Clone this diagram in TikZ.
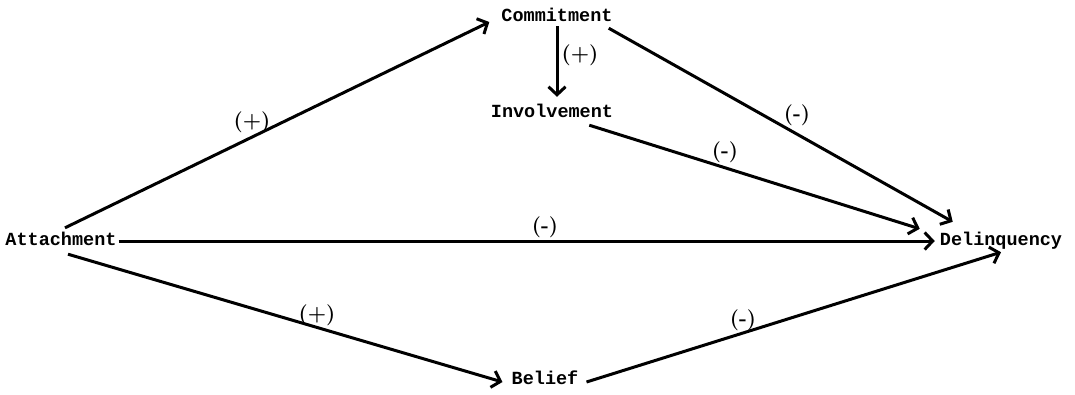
\documentclass[tikz,border=0pt]{standalone}
\usepackage{fontspec}
\setmonofont{Liberation Mono}
\usetikzlibrary{arrows.meta}
\begin{document}
\begin{tikzpicture}[x=1pt,y=-1pt,
  concept/.style={font=\ttfamily\bfseries\fontsize{18.5}{20}\selectfont, inner sep=2pt, text height=11pt, text depth=3pt},
  sign/.style={font=\bfseries\fontsize{21}{23}\selectfont, inner sep=0pt},
  arr/.style={line width=3pt, -{Straight Barb[length=8pt,width=17pt]}}]
\useasboundingbox (0,0) rectangle (1075,394);
\node[concept] (att) at (61,241) {Attachment};
\node[concept] (com) at (557,17) {Commitment};
\node[concept] (inv) at (552,113) {Involvement};
\node[concept] (del) at (1001,241) {Delinquency};
\node[concept] (bel) at (545,380) {Belief};

\draw[arr] ([xshift=4pt,yshift=4pt]att.north) -- ([xshift=-10pt,yshift=-5pt]com.west);
\draw[arr] (com.south) -- ([xshift=5pt,yshift=7pt]inv.north);
\draw[arr] ([xshift=-6pt,yshift=-2pt]com.south east) -- ([xshift=15pt,yshift=10pt]del.north west);
\draw[arr] ([xshift=-26pt,yshift=-3pt]inv.south east) -- ([xshift=-18pt,yshift=3pt]del.north west);
\draw[arr] (att.east) -- ([xshift=-3pt]del.west);
\draw[arr] ([xshift=7pt,yshift=-4pt]att.south) -- ([xshift=-7pt,yshift=-2pt]bel.west);
\draw[arr] ([xshift=6pt,yshift=-2pt]bel.east) -- ([yshift=-2pt]del.south);

\node[sign] (l1) at (252,122) {(+)};
\node[sign] (l2) at (580,55) {(+)};
\node[sign] (l3) at (797,115) {(-)};
\node[sign] (l4) at (725,152) {(-)};
\node[sign] (l5) at (545,227) {(-)};
\node[sign] (l6) at (317,315) {(+)};
\node[sign] (l7) at (743,320) {(-)};
\end{tikzpicture}
\end{document}
